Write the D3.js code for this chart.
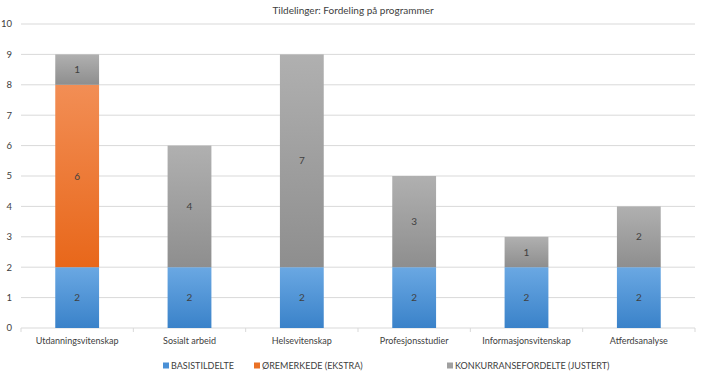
<!DOCTYPE html>
<html>
<head>
<meta charset="utf-8">
<script src="https://cdn.jsdelivr.net/npm/d3@7"></script>
<style>
  body { margin: 0; background: #fff; }
  svg text { font-family: Lato, "Open Sans", sans-serif; fill: #404040; }
</style>
</head>
<body>
<div id="chart"></div>
<script>
"use strict";

let categories = ["Utdanningsvitenskap", "Sosialt arbeid", "Helsevitenskap", "Profesjonsstudier", "Informasjonsvitenskap", "Atferdsanalyse"];
let basis = [2, 2, 2, 2, 2, 2];
let oremerket = [6, 0, 0, 0, 0, 0];
let konkurranse = [1, 4, 7, 3, 1, 2];
let seriesNames = ["BASISTILDELTE", "ØREMERKEDE (EKSTRA)", "KONKURRANSEFORDELTE (JUSTERT)"];
let yTicks = [0, 1, 2, 3, 4, 5, 6, 7, 8, 9, 10];

let width = 706, height = 379;
let margins = { top: 24, left: 21, right: 11, bottom: 51 };

let svg = d3.select("#chart").append("svg")
  .attr("width", width)
  .attr("height", height);

// gradient per series (lighter at top, darker at bottom)
let gradColors = [
  ["#6aa8e3", "#3a82c9"],
  ["#f28e55", "#e8671a"],
  ["#b0b0b0", "#8e8e8e"]
];
let defs = svg.append("defs");
gradColors.forEach((c, i) => {
  let g = defs.append("linearGradient")
    .attr("id", "grad" + i)
    .attr("x1", 0).attr("y1", 0).attr("x2", 0).attr("y2", 1);
  g.append("stop").attr("offset", "0%").attr("stop-color", c[0]);
  g.append("stop").attr("offset", "100%").attr("stop-color", c[1]);
});

let rows = categories.map((c, i) => ({ cat: c, s0: basis[i], s1: oremerket[i], s2: konkurranse[i] }));
let stack = d3.stack().keys(["s0", "s1", "s2"])(rows);

let x = d3.scaleBand()
  .domain(categories)
  .range([margins.left, width - margins.right])
  .paddingInner(0.61)
  .paddingOuter(0.305);

let y = d3.scaleLinear()
  .domain([0, 10])
  .range([height - margins.bottom, margins.top]);

// gridlines
svg.append("g")
  .selectAll("line")
  .data(yTicks.slice(1))
  .enter().append("line")
  .attr("x1", margins.left)
  .attr("x2", width - margins.right)
  .attr("y1", d => y(d))
  .attr("y2", d => y(d))
  .style("stroke", "#d9d9d9")
  .style("stroke-width", 1);

// y axis labels
svg.append("g")
  .selectAll("text")
  .data(yTicks)
  .enter().append("text")
  .attr("x", 12)
  .attr("y", d => y(d))
  .attr("dy", "0.35em")
  .attr("text-anchor", "end")
  .style("font-size", "9.5px")
  .text(d => d);

// x axis line + tick marks between categories
let axisY = y(0);
svg.append("line")
  .attr("x1", margins.left).attr("x2", width - margins.right)
  .attr("y1", axisY).attr("y2", axisY)
  .style("stroke", "#d9d9d9");

let step = x.step();
let boundaries = d3.range(categories.length + 1).map(i => margins.left + i * step);
svg.append("g")
  .selectAll("line")
  .data(boundaries)
  .enter().append("line")
  .attr("x1", d => d).attr("x2", d => d)
  .attr("y1", axisY).attr("y2", axisY + 4)
  .style("stroke", "#d9d9d9");

// bars
let segments = stack.flatMap((s, i) => s.map(p => ({ p: p, i: i })))
  .filter(d => d.p[1] - d.p[0] > 0);

svg.append("g").selectAll("rect")
  .data(segments)
  .enter().append("rect")
  .attr("fill", d => "url(#grad" + d.i + ")")
  .attr("x", d => x(d.p.data.cat))
  .attr("width", x.bandwidth())
  .attr("y", d => y(d.p[1]))
  .attr("height", d => y(d.p[0]) - y(d.p[1]));

// value labels
svg.append("g").selectAll("text")
  .data(segments)
  .enter().append("text")
  .attr("x", d => x(d.p.data.cat) + x.bandwidth() / 2)
  .attr("y", d => (y(d.p[0]) + y(d.p[1])) / 2)
  .attr("dy", "0.35em")
  .attr("text-anchor", "middle")
  .style("font-size", "10px")
  .style("fill", "#404040")
  .text(d => d.p[1] - d.p[0]);

// category labels
svg.append("g")
  .selectAll("text")
  .data(categories)
  .enter().append("text")
  .attr("x", d => x(d) + x.bandwidth() / 2)
  .attr("y", axisY + 13)
  .attr("dy", "0.35em")
  .attr("text-anchor", "middle")
  .style("font-size", "9px")
  .text(d => d);

// title
svg.append("text")
  .attr("x", 353)
  .attr("y", 14)
  .attr("text-anchor", "middle")
  .style("font-size", "10px")
  .text("Tildelinger: Fordeling på programmer");

// legend
let legendX = [163, 254, 447];
let legendSolid = ["#4a90d6", "#ea7125", "#a0a0a0"];
let legend = svg.append("g").selectAll("g")
  .data(seriesNames)
  .enter().append("g")
  .attr("transform", (d, i) => "translate(" + legendX[i] + "," + 366 + ")");

legend.append("rect")
  .attr("x", 0).attr("y", -3.5)
  .attr("width", 6).attr("height", 6)
  .attr("fill", (d, i) => legendSolid[i]);

legend.append("text")
  .attr("x", 8)
  .attr("dy", "0.35em")
  .style("font-size", "9px")
  .text(d => d);
</script>
</body>
</html>
